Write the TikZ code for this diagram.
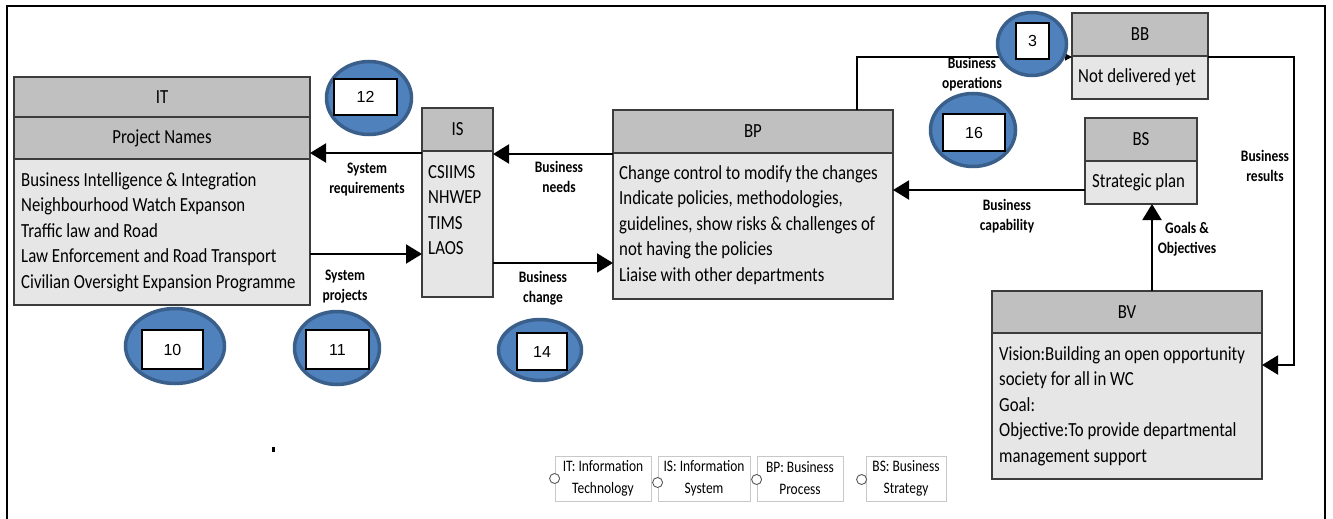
\documentclass[tikz,border=0pt]{standalone}
\usepackage{fontspec}
\setmainfont{Carlito}[FakeStretch=0.84]
\newfontfamily\numfont{Liberation Sans}
\usetikzlibrary{arrows.meta,shapes.geometric}

\definecolor{hdrgray}{HTML}{C0C0C0}
\definecolor{bodygray}{HTML}{E6E6E6}
\definecolor{edgegray}{HTML}{3C3C3C}
\definecolor{ringblue}{HTML}{4F81BD}
\definecolor{ringedge}{HTML}{3A5F8B}
\definecolor{legedge}{HTML}{C8C8C8}

\tikzset{
  panel/.style={rectangle, draw=edgegray, line width=1.2pt, anchor=north west, inner sep=0pt, outer sep=0pt},
  hdr/.style={panel, fill=hdrgray, font=\fontsize{20}{24}\selectfont},
  bdy/.style={panel, fill=bodygray},
  btext/.style={anchor=west, align=left, inner sep=0pt, font=\fontsize{20}{25.5}\selectfont},
  lbl/.style={align=center, inner sep=0pt, font=\bfseries\fontsize{16}{20}\selectfont},
  flow/.style={line width=2pt, -{Triangle[length=16pt,width=19pt]}},
  thinflow/.style={line width=1.2pt, -{Triangle[length=7pt,width=7pt]}},
  ring/.style={ellipse, fill=ringblue, draw=ringedge, line width=3.5pt, inner sep=0pt},
  numbox/.style={rectangle, fill=white, draw=black, line width=1.8pt, inner sep=0pt, font=\numfont\fontsize{16}{16}\selectfont},
  legbox/.style={rectangle, draw=legedge, line width=0.8pt, fill=white, align=center, inner sep=0pt, minimum height=45pt, font=\fontsize{16}{22}\selectfont},
  legdot/.style={circle, draw=black!65, fill=white, line width=0.9pt, minimum size=10pt, inner sep=0pt},
}

\begin{document}
\begin{tikzpicture}[x=1pt,y=-1pt]
\useasboundingbox (0,0) rectangle (1333,519);

% frame
\draw[line width=1.2pt] (7,519) -- (7,6) -- (1325,6) -- (1325,519);

% IT panel
\node[bdy, minimum width=296pt, minimum height=146pt] (ITbody) at (14,159) {};
\node[hdr, minimum width=296pt, minimum height=42pt] (ITsub) at (14,117) {Project Names};
\node[hdr, minimum width=296pt, minimum height=40pt] (IThead) at (14,77) {IT};
\node[btext] (ITtext) at ([xshift=7pt]ITbody.west) {Business Intelligence \& Integration\\Neighbourhood Watch Expanson\\Traffic law and Road\\Law Enforcement and Road Transport\\Civilian Oversight Expansion Programme};

% IS panel
\node[bdy, minimum width=71pt, minimum height=146pt] (ISbody) at (422,151) {};
\node[hdr, minimum width=71pt, minimum height=43pt] (IShead) at (422,108) {IS};
\node[btext] (IStext) at ([xshift=6pt,yshift=14pt]ISbody.west) {CSIIMS\\NHWEP\\TIMS\\LAOS};

% BP panel
\node[bdy, minimum width=280pt, minimum height=146pt] (BPbody) at (613,153) {};
\node[hdr, minimum width=280pt, minimum height=43pt] (BPhead) at (613,110) {BP};
\node[btext] (BPtext) at ([xshift=6pt,yshift=1pt]BPbody.west) {Change control to modify the changes\\Indicate policies, methodologies,\\guidelines, show risks \& challenges of\\not having the policies\\Liaise with other departments};

% BB panel
\node[bdy, minimum width=136pt, minimum height=43pt] (BBbody) at (1072,56) {};
\node[hdr, minimum width=136pt, minimum height=43pt] (BBhead) at (1072,13) {BB};
\node[btext] (BBtext) at ([xshift=6pt]BBbody.west) {Not delivered yet};

% BS panel
\node[bdy, minimum width=112pt, minimum height=43pt] (BSbody) at (1085,161) {};
\node[hdr, minimum width=112pt, minimum height=43pt] (BShead) at (1085,118) {BS};
\node[btext] (BStext) at ([xshift=7pt]BSbody.west) {Strategic plan};

% BV panel
\node[bdy, minimum width=270pt, minimum height=146pt] (BVbody) at (992,333) {};
\node[hdr, minimum width=270pt, minimum height=42pt] (BVhead) at (992,291) {BV};
\node[btext] (BVtext) at ([xshift=7pt]BVbody.west) {Vision:Building an open opportunity\\society for all in WC\\Goal:\\Objective:To provide departmental\\management support};

% connectors
\draw[flow] ([yshift=-2pt]ISbody.north west) -- ([yshift=-2pt]ISbody.north west -| ITsub.east);
\draw[flow] ([yshift=-22pt]ITbody.east) -- ([yshift=-22pt]ITbody.east -| ISbody.west);
\draw[flow] ([yshift=-1pt]BPbody.north west) -- ([yshift=-1pt]BPbody.north west -| ISbody.east);
\draw[flow] ([yshift=-39pt]ISbody.east) -- ([yshift=-39pt]ISbody.east -| BPbody.west);
\draw[flow] ([yshift=-7.5pt]BSbody.west) -- ([yshift=-7.5pt]BSbody.west -| BPbody.east);
\draw[thinflow] ([xshift=104pt]BPhead.north) |- ([yshift=-1pt]BBbody.north west);
\coordinate (rturn) at (1294,58);
\draw[flow] ([yshift=-1.5pt]BBbody.north east) -- ([yshift=-1.5pt]BBbody.north east -| rturn) |- ([yshift=41pt]BVbody.east);
\draw[flow] ([xshift=25pt]BVhead.north) -- ([xshift=25pt]BVhead.north |- BSbody.south);

% connector labels
\node[lbl] (lSR) at (367,180) {System\\requirements};
\node[lbl] (lSP) at (345,287) {System\\projects};
\node[lbl] (lBN) at (559,177) {Business\\needs};
\node[lbl] (lBC) at (543,288) {Business\\change};
\node[lbl] (lBO) at (972,74) {Business\\operations};
\node[lbl] (lBK) at (1007,216) {Business\\capability};
\node[lbl] (lBR) at (1265,166) {Business\\results};
\node[lbl] (lGO) at (1187,239) {Goals \&\\Objectives};

% numbered markers
\node[ring, minimum width=85pt, minimum height=73pt] (r12) at (369,98) {};
\node[numbox, minimum width=63pt, minimum height=36pt] (n12) at (365.5,97) {12};
\node[ring, minimum width=99pt, minimum height=75pt] (r10) at (175,346) {};
\node[numbox, minimum width=61pt, minimum height=39pt] (n10) at (172.5,349.5) {10};
\node[ring, minimum width=85pt, minimum height=73pt] (r11) at (337,348) {};
\node[numbox, minimum width=63pt, minimum height=39pt] (n11) at (337.5,349.5) {11};
\node[ring, minimum width=83pt, minimum height=61pt] (r14) at (540,350) {};
\node[numbox, minimum width=50pt, minimum height=37pt] (n14) at (542,351.5) {14};
\node[ring, minimum width=85pt, minimum height=73pt] (r16) at (973,130) {};
\node[numbox, minimum width=62pt, minimum height=37pt] (n16) at (974,132.5) {16};
\node[ring, minimum width=69pt, minimum height=63pt] (r3) at (1032,44) {};
\node[numbox, minimum width=33pt, minimum height=36pt] (n3) at (1032.5,41) {3};

% legend
\node[legbox, minimum width=96pt] (lgIT) at (603,478.5) {IT: Information\\Technology};
\node[legbox, minimum width=92pt] (lgIS) at (704,478.5) {IS: Information\\System};
\node[legbox, minimum width=86pt] (lgBP) at (800,478.5) {BP: Business\\Process};
\node[legbox, minimum width=80pt] (lgBS) at (906,478.5) {BS: Business\\Strategy};
\node[legdot] (dIT) at (lgIT.west) {};
\node[legdot] (dIS) at ([yshift=-4pt]lgIS.west) {};
\node[legdot] (dBP) at ([yshift=-1pt]lgBP.west) {};
\node[legdot] (dBS) at ([xshift=-4pt,yshift=-1pt]lgBS.west) {};

% stray mark
\fill (272,447) rectangle (274.5,451.5);
\end{tikzpicture}
\end{document}
